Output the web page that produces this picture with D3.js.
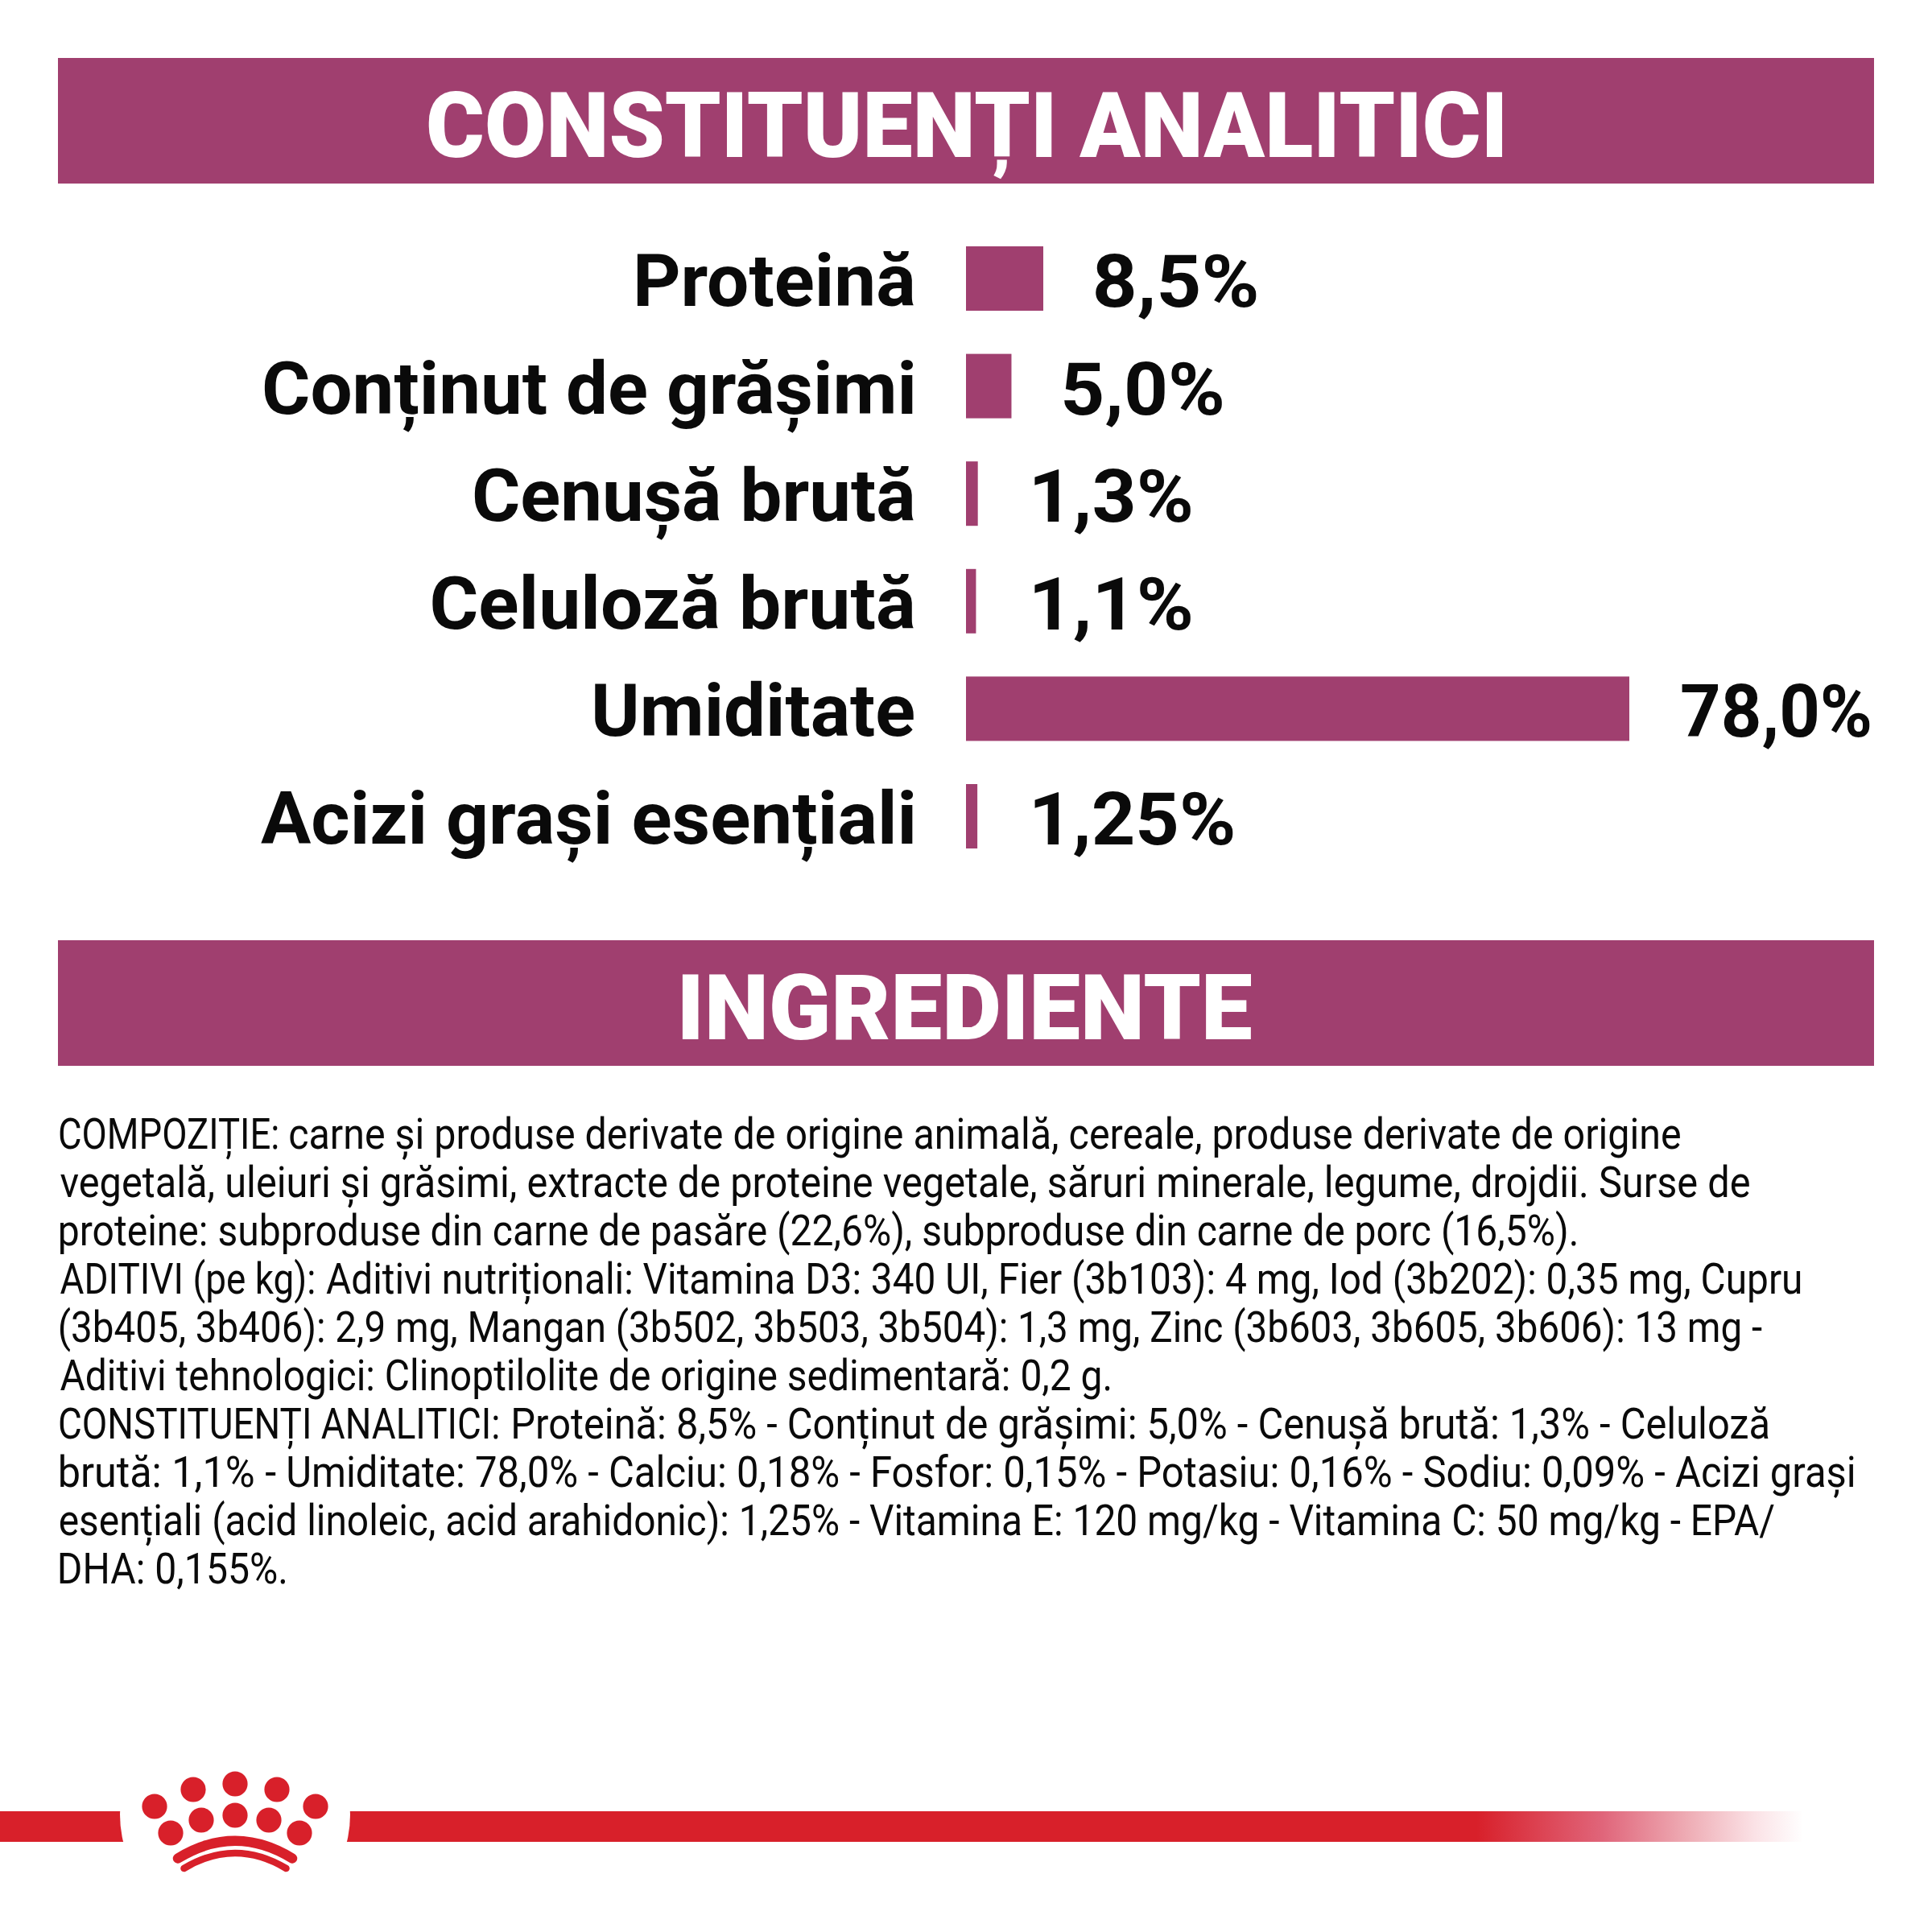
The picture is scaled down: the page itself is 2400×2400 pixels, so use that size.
<!DOCTYPE html>
<html lang="ro">
<head>
<meta charset="utf-8">
<title>Constituenți analitici</title>
<script src="https://cdn.jsdelivr.net/npm/d3@7/dist/d3.min.js"></script>
<style>html,body{margin:0;padding:0;background:#fff}svg{display:block}</style>
</head>
<body>
<script>
// ---- data ----
const categories = ["Proteină", "Conținut de grășimi", "Cenușă brută", "Celuloză brută", "Umiditate", "Acizi grași esențiali"];
const values = [8.5, 5.0, 1.3, 1.1, 78.0, 1.25];
const valueLabels = ["8,5%", "5,0%", "1,3%", "1,1%", "78,0%", "1,25%"];
const headings = ["CONSTITUENȚI ANALITICI", "INGREDIENTE"];
const bodyLines = [
  "COMPOZIȚIE: carne și produse derivate de origine animală, cereale, produse derivate de origine",
  "vegetală, uleiuri și grăsimi, extracte de proteine vegetale, săruri minerale, legume, drojdii. Surse de",
  "proteine: subproduse din carne de pasăre (22,6%), subproduse din carne de porc (16,5%).",
  "ADITIVI (pe kg): Aditivi nutriționali: Vitamina D3: 340 UI, Fier (3b103): 4 mg, Iod (3b202): 0,35 mg, Cupru",
  "(3b405, 3b406): 2,9 mg, Mangan (3b502, 3b503, 3b504): 1,3 mg, Zinc (3b603, 3b605, 3b606): 13 mg -",
  "Aditivi tehnologici: Clinoptilolite de origine sedimentară: 0,2 g.",
  "CONSTITUENȚI ANALITICI: Proteină: 8,5% - Conținut de grășimi: 5,0% - Cenușă brută: 1,3% - Celuloză",
  "brută: 1,1% - Umiditate: 78,0% - Calciu: 0,18% - Fosfor: 0,15% - Potasiu: 0,16% - Sodiu: 0,09% - Acizi grași",
  "esențiali (acid linoleic, acid arahidonic): 1,25% - Vitamina E: 120 mg/kg - Vitamina C: 50 mg/kg - EPA/",
  "DHA: 0,155%."
];

// ---- layout (separate from the data) ----
const W = 2400, H = 2400;
const PLUM = "#a03f6f", INK = "#0a0a0a", RED = "#d8202a";
const labelInkLeft = [791, 328, 589, 536.5, 739, 324];
const valueInkWidth = [200, 197, 194.5, 194.5, 234, 247];
const headingBands = [[72, 156], [1168, 156]];
const headingInk = [[532, 1866], [847.5, 1555]];
const bodyInkRight = [2088, 2174, 1958, 2237, 2189, 1379, 2197, 2304, 2204.5, 354.5];
// Where the narrow capitals / wide prefix of a line stop: [characters, ink end, next ink start]
const bodySplits = {0: [11, 345, 360], 3: [16, 390, 405], 6: [23, 619, 638], 7: [13, 342.5, 358]};

const svg = d3.select("body").append("svg").attr("width", W).attr("height", H).attr("viewBox", [0, 0, W, H]);
svg.append("rect").attr("width", W).attr("height", H).attr("fill", "#fff");

// Fit a text's inked extent to [left, right] with a horizontal scale, keeping it real text.
const ctx = document.createElement("canvas").getContext("2d");
function fitted(sel, str, font, left, right, base, fill) {
  ctx.font = `${font.weight} ${font.size}px ${font.family}`;
  const m = ctx.measureText(str);
  const inkL = -m.actualBoundingBoxLeft, inkR = m.actualBoundingBoxRight;
  const sx = (right - left) / (inkR - inkL);
  sel.append("text").text(str)
    .attr("transform", `translate(${left - inkL * sx},${base}) scale(${sx},1)`)
    .attr("font-family", font.family).attr("font-weight", font.weight).attr("font-size", font.size)
    .attr("fill", fill).style("white-space", "pre");
}

const headFont = {family: "Roboto", weight: 900, size: 114};
const labelFont = {family: "Roboto", weight: 700, size: 91};
const bodyFont = {family: "Roboto", weight: 400, size: 53};

// ---- headings ----
const gHead = svg.append("g");
gHead.selectAll("rect").data(headingBands).join("rect")
  .attr("x", 72).attr("y", d => d[0]).attr("width", 2256).attr("height", d => d[1]).attr("fill", PLUM);
headings.forEach((t, i) => fitted(gHead, t, headFont, headingInk[i][0], headingInk[i][1], headingBands[i][0] + 123, "#fff"));

// ---- bars ----
const x = d3.scaleLinear().domain([0, 8.5, 78]).range([1200, 1296, 2024]);
const y = d3.scaleBand().domain(categories).range([306, 306 + 5 * 133.6 + 80]).paddingInner(1 - 80 / 133.6).paddingOuter(0);
const gBars = svg.append("g");
gBars.selectAll("rect").data(values).join("rect")
  .attr("x", x(0)).attr("y", (d, i) => y(categories[i]))
  .attr("width", d => x(d) - x(0)).attr("height", y.bandwidth()).attr("fill", PLUM);
categories.forEach((c, i) => fitted(gBars, c, labelFont, labelInkLeft[i], 1135, y(c) + 74, INK));
valueLabels.forEach((v, i) => {
  const left = Math.max(x(values[i]) + 65, 1285);
  fitted(gBars, v, labelFont, left, left + valueInkWidth[i], y(categories[i]) + 75, INK);
});

// ---- body text ----
const gBody = svg.append("g");
const lineY = d3.scalePoint().domain(d3.range(bodyLines.length)).range([1427, 1967]);
bodyLines.forEach((l, i) => {
  const s = bodySplits[i];
  if (s) {
    fitted(gBody, l.slice(0, s[0]), bodyFont, 74.5, s[1], lineY(i), INK);
    fitted(gBody, l.slice(s[0] + 1), bodyFont, s[2], bodyInkRight[i], lineY(i), INK);
  } else {
    fitted(gBody, l, bodyFont, 74.5, bodyInkRight[i], lineY(i), INK);
  }
});

// ---- brand ribbon and crown ----
const defs = svg.append("defs");
const grad = defs.append("linearGradient").attr("id", "fade").attr("gradientUnits", "userSpaceOnUse")
  .attr("x1", 0).attr("x2", 2240).attr("y1", 0).attr("y2", 0);
[[1834, RED], [1990, "#e0657a"], [2102, "#efb0b8"], [2180, "#fbe2e6"], [2240, "#ffffff"]].forEach(s =>
  grad.append("stop").attr("offset", s[0] / 2240).attr("stop-color", s[1]));
const gLogo = svg.append("g");
gLogo.append("rect").attr("x", 0).attr("y", 2250).attr("width", 2240).attr("height", 38).attr("fill", "url(#fade)");
gLogo.append("circle").attr("cx", 292).attr("cy", 2254).attr("r", 143).attr("fill", "#fff");
const dots = [[292,2216],[240,2223],[344,2223],[192,2244],[392,2244],[292,2255],[250,2261],[334,2261],[212,2277],[372,2277]];
gLogo.selectAll("ellipse").data(dots).join("ellipse")
  .attr("cx", d => d[0]).attr("cy", d => d[1]).attr("rx", 15.6).attr("ry", 15.6).attr("fill", RED);
gLogo.append("path").attr("d", "M221,2308.5 Q292,2265 363,2308.5").attr("fill", "none")
  .attr("stroke", RED).attr("stroke-width", 12.5).attr("stroke-linecap", "round");
gLogo.append("path").attr("d", "M228.5,2321 Q292,2283 355.5,2321").attr("fill", "none")
  .attr("stroke", RED).attr("stroke-width", 8.5).attr("stroke-linecap", "round");
</script>
</body>
</html>
